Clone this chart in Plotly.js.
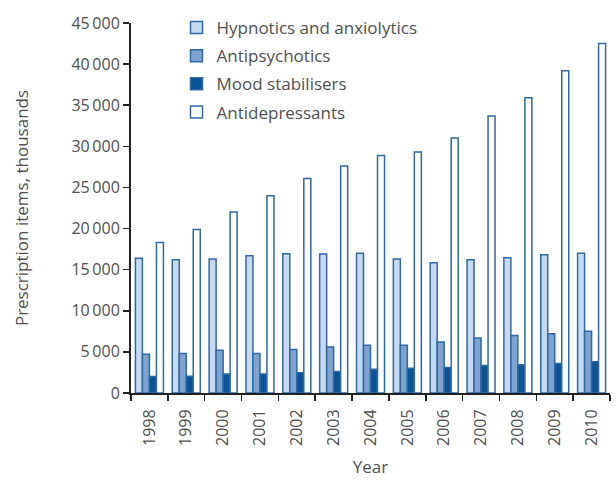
<!DOCTYPE html>
<html>
<head>
<meta charset="utf-8">
<script src="https://cdn.plot.ly/plotly-3.0.1.min.js"></script>
<style>html,body{margin:0;padding:0;background:#fff;}#chart{width:616px;height:487px;}</style>
</head>
<body>
<div id="chart"></div>
<script>
var years = ['1998','1999','2000','2001','2002','2003','2004','2005','2006','2007','2008','2009','2010'];
var hypnotics = [16400,16200,16300,16700,16950,16900,17000,16300,15850,16200,16450,16800,17000];
var antipsychotics = [4700,4800,5200,4800,5300,5600,5800,5800,6200,6700,7000,7200,7500];
var moodStabilisers = [2000,2050,2300,2300,2450,2600,2900,3000,3100,3350,3450,3600,3800];
var antidepressants = [18300,19900,22000,24000,26100,27600,28900,29300,31000,33700,35900,39200,42500];
var seriesNames = ['Hypnotics and anxiolytics','Antipsychotics','Mood stabilisers','Antidepressants'];

var edge = '#2f6aa3';
function bar(name, y, fill, g) {
  return {type:'bar', name:name, x:years, y:y, legendgroup:g,
    marker:{color:fill, line:{color:edge, width:1.5}}, hoverinfo:'none'};
}
var data = [
  bar(seriesNames[0], hypnotics, '#c6d9f0', 'a'),
  bar(seriesNames[1], antipsychotics, '#7fa2cf', 'b'),
  bar(seriesNames[2], moodStabilisers, '#0b5394', 'c'),
  bar(seriesNames[3], antidepressants, '#ffffff', 'd')
];
var txt = '#505050';
var font = {family:'Open Sans, sans-serif', color:txt};
var layout = {
  width:616, height:487,
  margin:{l:131, r:6, t:23, b:94},
  barmode:'group', bargap:0.24, bargroupgap:0,
  separators:'.\u2009',
  font:font,
  showlegend:true,
  legend:{x:0.095, y:1.035, xanchor:'left', yanchor:'top', bgcolor:'rgba(0,0,0,0)',
    font:{family:'Open Sans, sans-serif', size:17, color:txt}, tracegroupgap:3},
  xaxis:{type:'category', tickson:'boundaries', ticks:'outside', ticklen:6, tickwidth:1.5,
    tickcolor:'#222', showline:true, linecolor:'#222', linewidth:2, tickangle:-90,
    ticklabelstandoff:8,
    tickfont:{size:16, color:txt}, showgrid:false,
    title:{text:'Year', font:{size:17, color:txt}, standoff:16}},
  yaxis:{range:[0,45000], dtick:5000, ticks:'outside', ticklen:6, tickwidth:1.5, tickcolor:'#222',
    showline:true, linecolor:'#222', linewidth:2, showgrid:false, zeroline:false,
    tickformat:',d', exponentformat:'none', separatethousands:true,
    tickfont:{size:16, color:txt},
    title:{text:'Prescription items, thousands', font:{size:17, color:txt}, standoff:38}},
  plot_bgcolor:'#fff', paper_bgcolor:'#fff'
};
Plotly.newPlot('chart', data, layout, {displayModeBar:false, staticPlot:true});
</script>
</body>
</html>
